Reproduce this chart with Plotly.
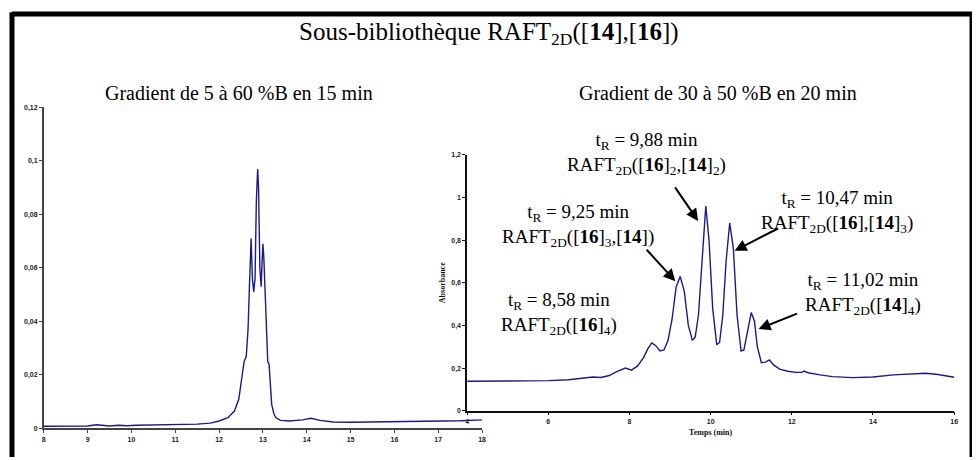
import plotly.graph_objects as go

# Gradient 5 -> 60 %B in 15 min (left chromatogram)
left_time = [8.0, 8.5, 9.0, 9.2, 9.3, 9.5, 9.7, 9.9, 10.1, 10.5, 11.0, 11.5, 11.8, 12.0,
             12.2, 12.35, 12.45, 12.52, 12.57, 12.62, 12.66, 12.69, 12.71, 12.73, 12.76,
             12.79, 12.82, 12.85, 12.88, 12.9, 12.93, 12.96, 12.98, 13.0, 13.02, 13.05,
             13.08, 13.11, 13.14, 13.17, 13.2, 13.25, 13.3, 13.4, 13.6, 13.9, 14.1, 14.3,
             14.6, 15.0, 15.5, 16.0, 16.5, 17.0, 17.5, 18.0]
left_abs = [0.0008, 0.0008, 0.0009, 0.0014, 0.0012, 0.0009, 0.0012, 0.0010, 0.0012, 0.0013,
            0.0015, 0.0016, 0.0020, 0.0028, 0.0040, 0.0065, 0.0110, 0.0190, 0.0250, 0.0270,
            0.0370, 0.0520, 0.0650, 0.0710, 0.0560, 0.0510, 0.0560, 0.0850, 0.0970, 0.0900,
            0.0600, 0.0530, 0.0620, 0.0690, 0.0640, 0.0500, 0.0330, 0.0250, 0.0240, 0.0150,
            0.0090, 0.0055, 0.0040, 0.0030, 0.0028, 0.0032, 0.0038, 0.0030, 0.0024, 0.0023,
            0.0024, 0.0025, 0.0026, 0.0027, 0.0029, 0.0032]

# Gradient 30 -> 50 %B in 20 min (right chromatogram)
right_time = [4.0, 4.5, 5.0, 5.5, 6.0, 6.5, 6.8, 7.1, 7.3, 7.5, 7.7, 7.9, 8.05, 8.2, 8.35,
              8.45, 8.55, 8.65, 8.75, 8.85, 8.95, 9.05, 9.15, 9.25, 9.35, 9.45, 9.55, 9.62,
              9.7, 9.78, 9.88, 9.96, 10.05, 10.15, 10.22, 10.3, 10.38, 10.47, 10.56, 10.65,
              10.75, 10.82, 10.9, 11.0, 11.08, 11.15, 11.25, 11.35, 11.45, 11.55, 11.7,
              11.9, 12.1, 12.25, 12.3, 12.4, 12.7, 13.0, 13.5, 14.0, 14.5, 15.0, 15.3,
              15.6, 16.0]
right_abs = [0.138, 0.138, 0.139, 0.140, 0.141, 0.145, 0.150, 0.158, 0.156, 0.165, 0.185,
             0.200, 0.190, 0.210, 0.250, 0.290, 0.318, 0.305, 0.280, 0.285, 0.330, 0.430,
             0.580, 0.630, 0.560, 0.400, 0.330, 0.345, 0.450, 0.700, 0.960, 0.800, 0.480,
             0.310, 0.320, 0.450, 0.700, 0.880, 0.760, 0.450, 0.280, 0.285, 0.360, 0.460,
             0.420, 0.300, 0.225, 0.228, 0.238, 0.215, 0.195, 0.185, 0.180, 0.180, 0.186,
             0.178, 0.168, 0.160, 0.155, 0.158, 0.168, 0.175, 0.176, 0.170, 0.157]

# peak labels
peak_lines = [
    ("t<sub>R</sub> = 9,88 min", "RAFT<sub>2D</sub>([<b>16</b>]<sub>2</sub>,[<b>14</b>]<sub>2</sub>)"),
    ("t<sub>R</sub> = 9,25 min", "RAFT<sub>2D</sub>([<b>16</b>]<sub>3</sub>,[<b>14</b>])"),
    ("t<sub>R</sub> = 10,47 min", "RAFT<sub>2D</sub>([<b>16</b>],[<b>14</b>]<sub>3</sub>)"),
    ("t<sub>R</sub> = 11,02 min", "RAFT<sub>2D</sub>([<b>14</b>]<sub>4</sub>)"),
    ("t<sub>R</sub> = 8,58 min", "RAFT<sub>2D</sub>([<b>16</b>]<sub>4</sub>)"),
]

# the page body has an 8px margin, so the figure is shrunk and every
# page-pixel position is shifted by that amount
OFF = 8
W, H = 980 - OFF, 460 - OFF
SERIF = "Liberation Serif"
LINE = "#1a1a8a"


def px(x, y):
    return (x - OFF) / W, 1 - (y - OFF) / H


def xdom(a, b):
    return [(a - OFF) / W, (b - OFF) / W]


def ydom(top, bottom):
    return [1 - (bottom - OFF) / H, 1 - (top - OFF) / H]


fig = go.Figure()
fig.add_trace(go.Scatter(x=left_time, y=left_abs, mode="lines",
                         line=dict(color=LINE, width=1.4), xaxis="x", yaxis="y"))
fig.add_trace(go.Scatter(x=right_time, y=right_abs, mode="lines",
                         line=dict(color=LINE, width=1.4), xaxis="x2", yaxis="y2"))

tick_font = dict(family="Liberation Sans", size=7, color="#222", weight="bold")
axis_common = dict(showgrid=False, zeroline=False, ticks="outside", ticklen=3,
                   tickfont=tick_font, showline=True, linewidth=1.5)

fig.update_layout(
    width=W, height=H, margin=dict(l=0, r=0, t=0, b=0),
    paper_bgcolor="white", plot_bgcolor="rgba(0,0,0,0)",
    showlegend=False, separators=", ",
    xaxis=dict(domain=xdom(42, 483), range=[8, 18], dtick=1, anchor="y",
               linecolor="#444", tickcolor="#444", **axis_common),
    yaxis=dict(domain=ydom(105, 431), range=[0, 0.12], dtick=0.02, anchor="x",
               linecolor="#444", tickcolor="#444", **axis_common),
    xaxis2=dict(domain=xdom(468, 958), range=[4, 16], dtick=2, anchor="y2",
                linecolor="#111", tickcolor="#111",
                title=dict(text="<b>Temps (min)</b>", font=dict(family=SERIF, size=8, color="#111"),
                           standoff=6), **axis_common),
    yaxis2=dict(domain=ydom(153, 413), range=[0, 1.2], dtick=0.2, anchor="x2",
                linecolor="#111", tickcolor="#111",
                title=dict(text="<b>Absorbance</b>", font=dict(family=SERIF, size=8, color="#111"),
                           standoff=4), **axis_common),
)

# outer frame
frame = dict(type="line", xref="paper", yref="paper", line=dict(color="black", width=5))
lx, ty = px(10, 10)
rx, _ = px(976, 10)
fig.add_shape(x0=lx, x1=1, y0=ty, y1=ty, **frame)
fig.add_shape(x0=lx, x1=lx, y0=0, y1=ty + 0.004, **frame)
fig.add_shape(x0=rx, x1=rx, y0=0, y1=ty + 0.004, **frame)

# titles
titles = [
    ("Sous-bibliothèque RAFT<sub>2D</sub>([<b>14</b>],[<b>16</b>])", 490, 30, 25),
    ("Gradient de 5 à 60 %B en 15 min", 238, 90, 20),
    ("Gradient de 30 à 50 %B en 20 min", 720, 90, 20),
]
for text, x, y, size in titles:
    xx, yy = px(x, y)
    fig.add_annotation(text=text, x=xx, y=yy, xref="paper", yref="paper", showarrow=False,
                       xanchor="center", yanchor="middle",
                       font=dict(family=SERIF, size=size, color="black"))

# peak labels, centre position in page pixels
label_pos = [(648, 152), (580, 225), (840, 211), (866, 294), (560, 314)]
for (l1, l2), (x, y) in zip(peak_lines, label_pos):
    xx, yy = px(x, y)
    fig.add_annotation(text=l1 + "<br>" + l2, x=xx, y=yy, xref="paper", yref="paper",
                       showarrow=False, xanchor="center", yanchor="middle", align="center",
                       font=dict(family=SERIF, size=19, color="black"))

# arrows: head (time, absorbance) on the peak flank, tail offset in pixels
arrow_head = [(9.69, 0.89), (9.13, 0.607), (10.59, 0.75), (11.18, 0.383)]
arrow_tail = [(-24, -35), (-30, -33), (45, -23), (40, -16)]
for (hx, hy), (ax, ay) in zip(arrow_head, arrow_tail):
    fig.add_annotation(x=hx, y=hy, xref="x2", yref="y2", ax=ax, ay=ay, text="",
                       showarrow=True, arrowhead=2, arrowsize=1.2, arrowwidth=2,
                       arrowcolor="black", standoff=0)

fig.write_html("out.html")
